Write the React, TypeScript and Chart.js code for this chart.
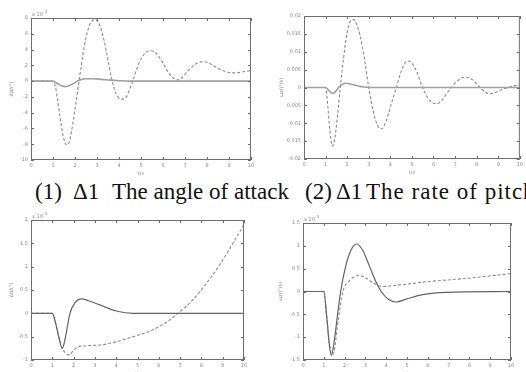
import React, { useEffect, useRef } from "react";
import { Chart, registerables } from "chart.js";
Chart.register(...registerables);

// (1) angle of attack, x10^-3
const tA_dash = [0, 1.0, 1.1, 1.2, 1.3, 1.4, 1.5, 1.62, 1.75, 1.9, 2.05, 2.2, 2.35, 2.5, 2.65, 2.8, 2.92, 3.05, 3.2, 3.35, 3.5, 3.65, 3.8, 3.95, 4.15, 4.35, 4.5, 4.65, 4.8, 5.0, 5.2, 5.45, 5.7, 5.95, 6.2, 6.45, 6.65, 6.85, 7.1, 7.4, 7.65, 7.9, 8.15, 8.45, 8.75, 9.0, 9.3, 9.6, 10];
const vA_dash = [0, 0, -0.6, -2.2, -4.2, -6.0, -7.4, -8.1, -7.6, -5.4, -2.6, 0.3, 3.2, 5.5, 7.0, 7.7, 7.8, 7.5, 6.5, 4.8, 2.7, 0.5, -1.1, -2.0, -2.3, -1.9, -0.9, 0.2, 1.5, 2.8, 3.6, 3.85, 3.5, 2.5, 1.3, 0.4, 0.15, 0.4, 1.2, 2.0, 2.4, 2.45, 2.2, 1.7, 1.3, 1.1, 1.05, 1.15, 1.35];
const tA_solid = [0, 1.0, 1.2, 1.4, 1.55, 1.7, 1.9, 2.1, 2.3, 2.5, 2.8, 3.2, 3.6, 4.0, 4.5, 10];
const vA_solid = [0, 0, -0.3, -0.6, -0.7, -0.6, -0.35, 0, 0.22, 0.3, 0.3, 0.22, 0.12, 0.05, 0, 0];

// (2) rate of pitch
const tB_dash = [0, 1.0, 1.1, 1.2, 1.31, 1.42, 1.55, 1.68, 1.85, 2.0, 2.15, 2.3, 2.45, 2.6, 2.8, 3.0, 3.2, 3.4, 3.59, 3.8, 4.05, 4.28, 4.5, 4.7, 4.85, 5.0, 5.25, 5.49, 5.75, 6.0, 6.18, 6.4, 6.6, 6.83, 7.1, 7.45, 7.8, 8.15, 8.4, 8.6, 8.85, 9.15, 9.46, 9.75, 10];
const vB_dash = [0, 0, -0.005, -0.012, -0.0164, -0.0145, -0.008, 0, 0.009, 0.0155, 0.0185, 0.019, 0.0175, 0.0145, 0.008, 0, -0.0065, -0.0105, -0.0116, -0.0095, -0.0045, 0, 0.0045, 0.007, 0.0074, 0.0068, 0.004, 0, -0.003, -0.0044, -0.0045, -0.0035, -0.0018, 0, 0.0018, 0.0029, 0.0022, 0, -0.0013, -0.0018, -0.0014, -0.0006, 0, 0.0005, 0.0007];
const tB_solid = [0, 1.0, 1.15, 1.3, 1.45, 1.6, 1.8, 1.95, 2.2, 2.5, 3.0, 10];
const vB_solid = [0, 0, -0.0008, -0.0016, -0.0012, 0, 0.001, 0.0012, 0.0009, 0.0004, 0, 0];

// (3) angle of attack, x10^-3
const tC_dash = [0, 1.0, 1.15, 1.3, 1.47, 1.62, 1.8, 1.95, 2.1, 2.45, 3.23, 4.0, 4.8, 5.58, 6.36, 6.9, 7.6, 8.23, 8.86, 9.48, 10];
const vC_dash = [0, 0, -0.2, -0.5, -0.75, -0.85, -0.89, -0.82, -0.75, -0.7, -0.68, -0.61, -0.5, -0.38, -0.19, 0, 0.29, 0.64, 1.04, 1.5, 1.9];
const tC_solid = [0, 1.0, 1.15, 1.3, 1.47, 1.6, 1.83, 2.05, 2.375, 2.7, 3.23, 4.0, 4.8, 10];
const vC_solid = [0, 0, -0.2, -0.5, -0.75, -0.55, 0, 0.22, 0.31, 0.27, 0.18, 0.05, 0, 0];

// (4) rate of pitch, x10^-3
const tD_dash = [0, 1.0, 1.15, 1.3, 1.4, 1.5, 1.7, 1.92, 2.2, 2.5, 2.72, 3.0, 3.4, 3.84, 4.16, 6.08, 7.68, 10];
const vD_dash = [0, 0, -0.6, -1.25, -1.38, -1.3, -0.6, 0, 0.22, 0.33, 0.35, 0.3, 0.18, 0.11, 0.12, 0.22, 0.28, 0.39];
const tD_solid = [0, 1.0, 1.15, 1.25, 1.36, 1.5, 1.65, 1.81, 2.05, 2.3, 2.56, 2.85, 3.2, 3.5, 3.76, 4.1, 4.48, 5.0, 5.76, 6.9, 10];
const vD_solid = [0, 0, -0.6, -1.1, -1.4, -1.1, -0.55, 0, 0.55, 0.9, 1.04, 0.92, 0.55, 0.22, 0, -0.17, -0.23, -0.16, -0.07, -0.02, 0];

const xTicks = [0, 1, 2, 3, 4, 5, 6, 7, 8, 9, 10];

const pts = (t: number[], v: number[]) => t.map((x, i) => ({ x, y: v[i] }));

const framePlugin = {
  id: "frame",
  afterDraw(chart: any, _a: any, opts: any) {
    const { ctx, chartArea: a, scales } = chart;
    ctx.save();
    ctx.strokeStyle = "#6e6e6e";
    ctx.lineWidth = 1;
    ctx.strokeRect(a.left + 0.5, a.top + 0.5, a.right - a.left - 1, a.bottom - a.top - 1);
    const L = 3;
    ctx.beginPath();
    scales.x.ticks.forEach((tk: any) => {
      const p = Math.round(scales.x.getPixelForValue(tk.value)) + 0.5;
      ctx.moveTo(p, a.bottom); ctx.lineTo(p, a.bottom - L);
      ctx.moveTo(p, a.top); ctx.lineTo(p, a.top + L);
    });
    scales.y.ticks.forEach((tk: any) => {
      const p = Math.round(scales.y.getPixelForValue(tk.value)) + 0.5;
      ctx.moveTo(a.left, p); ctx.lineTo(a.left + L, p);
      ctx.moveTo(a.right, p); ctx.lineTo(a.right - L, p);
    });
    ctx.stroke();
    ctx.fillStyle = "#8a8a8a";
    ctx.font = "5px 'DejaVu Sans'";
    if (opts.exp) {
      ctx.textAlign = "left";
      ctx.textBaseline = "alphabetic";
      ctx.fillText("x 10", a.left + 1, a.top - 2);
      ctx.font = "4px 'DejaVu Sans'";
      ctx.fillText("-3", a.left + 12, a.top - 5);
    }
    ctx.font = "5px 'DejaVu Sans'";
    ctx.textAlign = "center";
    ctx.textBaseline = "top";
    ctx.fillText("t/s", (a.left + a.right) / 2, a.bottom + 11);
    ctx.save();
    ctx.translate(a.left - opts.yTitleOff, (a.top + a.bottom) / 2);
    ctx.rotate(-Math.PI / 2);
    ctx.textBaseline = "middle";
    ctx.fillText(opts.yTitle, 0, 0);
    ctx.restore();
    ctx.restore();
  },
};

type PlotProps = {
  box: { x: number; y: number; w: number; h: number };
  frame: { l: number; t: number; r: number; b: number };
  dash: { x: number; y: number }[];
  solid: { x: number; y: number }[];
  yMin: number; yMax: number; yStep: number;
  exp: boolean; yTitle: string; yTitleOff: number;
  solidColor: string; solidWidth: number;
};

function Plot(p: PlotProps) {
  const ref = useRef<HTMLCanvasElement>(null);
  useEffect(() => {
    const yW = p.frame.l - p.box.x;
    const xH = p.box.y + p.box.h - p.frame.b;
    const chart = new Chart(ref.current!, {
      type: "line",
      data: {
        datasets: [
          { data: p.solid, borderColor: p.solidColor, borderWidth: p.solidWidth, pointRadius: 0, cubicInterpolationMode: "monotone", fill: false },
          { data: p.dash, borderColor: "#8c8c8c", borderWidth: 1.1, borderDash: [3, 2], pointRadius: 0, cubicInterpolationMode: "monotone", fill: false },
        ],
      },
      options: {
        animation: false,
        responsive: false,
        layout: { padding: { left: 0, top: p.frame.t - p.box.y, right: p.box.x + p.box.w - p.frame.r, bottom: 0 } },
        plugins: { legend: { display: false }, tooltip: { enabled: false }, frame: { exp: p.exp, yTitle: p.yTitle, yTitleOff: p.yTitleOff } } as any,
        scales: {
          x: {
            type: "linear", min: 0, max: 10,
            afterBuildTicks: (s: any) => { s.ticks = xTicks.map((v) => ({ value: v })); },
            afterFit: (s: any) => { s.height = xH; },
            grid: { display: false, drawTicks: false },
            border: { display: false },
            ticks: { font: { size: 5, family: "DejaVu Sans" }, color: "#8a8a8a", padding: 3, maxRotation: 0, autoSkip: false, callback: (v: any) => String(v) },
          },
          y: {
            type: "linear", min: p.yMin, max: p.yMax,
            ticks: { stepSize: p.yStep, font: { size: 5, family: "DejaVu Sans" }, color: "#8a8a8a", padding: 3, autoSkip: false, callback: (v: any) => String(+Number(v).toFixed(4)) },
            afterFit: (s: any) => { s.width = yW; },
            grid: { display: false, drawTicks: false },
            border: { display: false },
          },
        },
      },
      plugins: [framePlugin as any],
    });
    return () => chart.destroy();
  }, []);
  return (
    <canvas ref={ref} width={p.box.w} height={p.box.h}
      style={{ position: "absolute", left: p.box.x, top: p.box.y, width: p.box.w, height: p.box.h }} />
  );
}

const capStyle: React.CSSProperties = {
  position: "absolute", top: 180, fontFamily: "Liberation Serif",
  fontSize: 23, lineHeight: "23px", whiteSpace: "nowrap", color: "#111",
};

export default function App() {
  return (
    <div style={{ position: "fixed", left: 0, top: 0, width: 526, height: 372, background: "#fff", overflow: "hidden" }}>
      <Plot box={{ x: 0, y: 0, w: 263, h: 178 }} frame={{ l: 31, t: 18, r: 251, b: 160 }}
        dash={pts(tA_dash, vA_dash)} solid={pts(tA_solid, vA_solid)}
        yMin={-10} yMax={8} yStep={2} exp yTitle="Δα/(°)" yTitleOff={19}
        solidColor="#a0a0a0" solidWidth={1.6} />
      <Plot box={{ x: 263, y: 0, w: 263, h: 178 }} frame={{ l: 304, t: 16, r: 520, b: 159 }}
        dash={pts(tB_dash, vB_dash)} solid={pts(tB_solid, vB_solid)}
        yMin={-0.02} yMax={0.02} yStep={0.005} exp={false} yTitle="ωz/(°/s)" yTitleOff={22}
        solidColor="#a0a0a0" solidWidth={1.6} />
      <Plot box={{ x: 0, y: 205, w: 263, h: 167 }} frame={{ l: 31, t: 220, r: 244, b: 360 }}
        dash={pts(tC_dash, vC_dash)} solid={pts(tC_solid, vC_solid)}
        yMin={-1} yMax={2} yStep={0.5} exp yTitle="Δα/(°)" yTitleOff={19}
        solidColor="#62626e" solidWidth={1.2} />
      <Plot box={{ x: 263, y: 205, w: 263, h: 167 }} frame={{ l: 303, t: 223, r: 511, b: 360 }}
        dash={pts(tD_dash, vD_dash)} solid={pts(tD_solid, vD_solid)}
        yMin={-1.5} yMax={1.5} yStep={0.5} exp yTitle="ωz/(°/s)" yTitleOff={22}
        solidColor="#62626e" solidWidth={1.2} />
      <span style={{ ...capStyle, left: 35 }}>(1)</span>
      <span style={{ ...capStyle, left: 73 }}>Δ1</span>
      <span style={{ ...capStyle, left: 112 }}>The angle of attack</span>
      <span style={{ ...capStyle, left: 305 }}>(2)</span>
      <span style={{ ...capStyle, left: 336 }}>Δ1</span>
      <span style={{ ...capStyle, left: 366, letterSpacing: "1px" }}>The rate of pitch</span>
    </div>
  );
}
